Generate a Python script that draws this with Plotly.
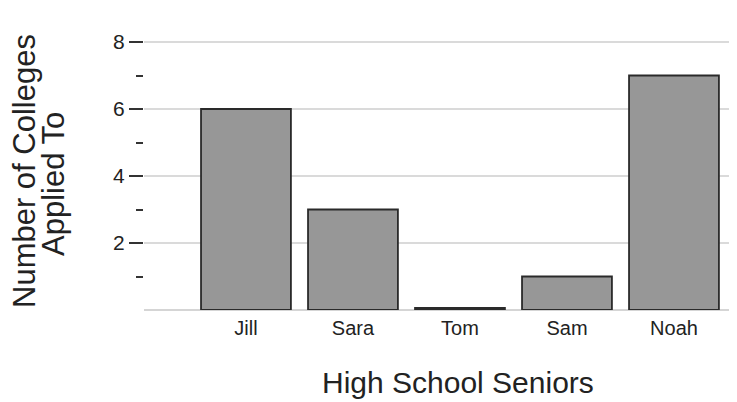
import plotly.graph_objects as go

seniors = ["Jill", "Sara", "Tom", "Sam", "Noah"]
colleges = [6, 3, 0.06, 1, 7]
y_tick_vals = [2, 4, 6, 8]
y_tick_text = ["2", "4", "6", "8"]
x_title = "High School Seniors"
y_title_lines = ["Number of Colleges", "Applied To"]

FONT = "Liberation Sans, Arial, Helvetica, sans-serif"
TXT = "#222222"

# the page body adds an 8px offset; compensate so the plot lands where the reference has it
OFF = 8
W, H = 737 - OFF, 402 - OFF
L, R, T, B = 144 - OFF, 0, 40 - OFF, 92
pw, ph = W - L - R, H - T - B

fig = go.Figure(
    go.Bar(
        x=seniors,
        y=colleges,
        width=0.84,
        marker=dict(color="#979797", line=dict(color="#2a2a2a", width=1.8)),
    )
)

fig.update_layout(
    width=W,
    height=H,
    margin=dict(l=L, r=R, t=T, b=B, pad=0),
    paper_bgcolor="white",
    plot_bgcolor="white",
    showlegend=False,
    font=dict(family=FONT, color=TXT),
)

fig.update_xaxes(
    type="category",
    range=[-0.953, 4.589],
    showgrid=False,
    zeroline=False,
    showline=False,
    ticks="",
    ticklabelstandoff=4,
    tickfont=dict(size=20, family=FONT, color=TXT),
)

fig.update_yaxes(
    range=[0, 8.06],
    tickvals=y_tick_vals,
    ticktext=y_tick_text,
    ticks="outside",
    ticklen=14,
    tickwidth=2,
    tickcolor="#333333",
    tickfont=dict(size=21, family=FONT, color=TXT),
    showgrid=True,
    gridcolor="#dadada",
    gridwidth=1.5,
    zeroline=True,
    zerolinecolor="#d5d5d5",
    zerolinewidth=1.5,
    showline=False,
    minor=dict(
        tick0=1,
        dtick=2,
        ticks="outside",
        ticklen=7,
        tickwidth=2,
        tickcolor="#333333",
        showgrid=False,
    ),
)

# x-axis title centred under the bars (as in the reference)
fig.add_annotation(
    text=x_title,
    xref="paper",
    yref="paper",
    x=(458 - OFF - L) / pw,
    y=(H - B - (382 - OFF)) / ph,
    xanchor="center",
    yanchor="middle",
    showarrow=False,
    font=dict(size=30, family=FONT, color=TXT),
)

# y-axis title as two stacked rotated lines (tight line spacing as in reference)
line_pos = [(24 - OFF, 171 - OFF), (53 - OFF, 184 - OFF)]
for text, (px, py) in zip(y_title_lines, line_pos):
    fig.add_annotation(
        text=text,
        textangle=-90,
        xref="paper",
        yref="paper",
        x=(px - L) / pw,
        y=(H - B - py) / ph,
        xanchor="center",
        yanchor="middle",
        showarrow=False,
        font=dict(size=31, family=FONT, color=TXT),
    )

fig.write_html("out.html")
